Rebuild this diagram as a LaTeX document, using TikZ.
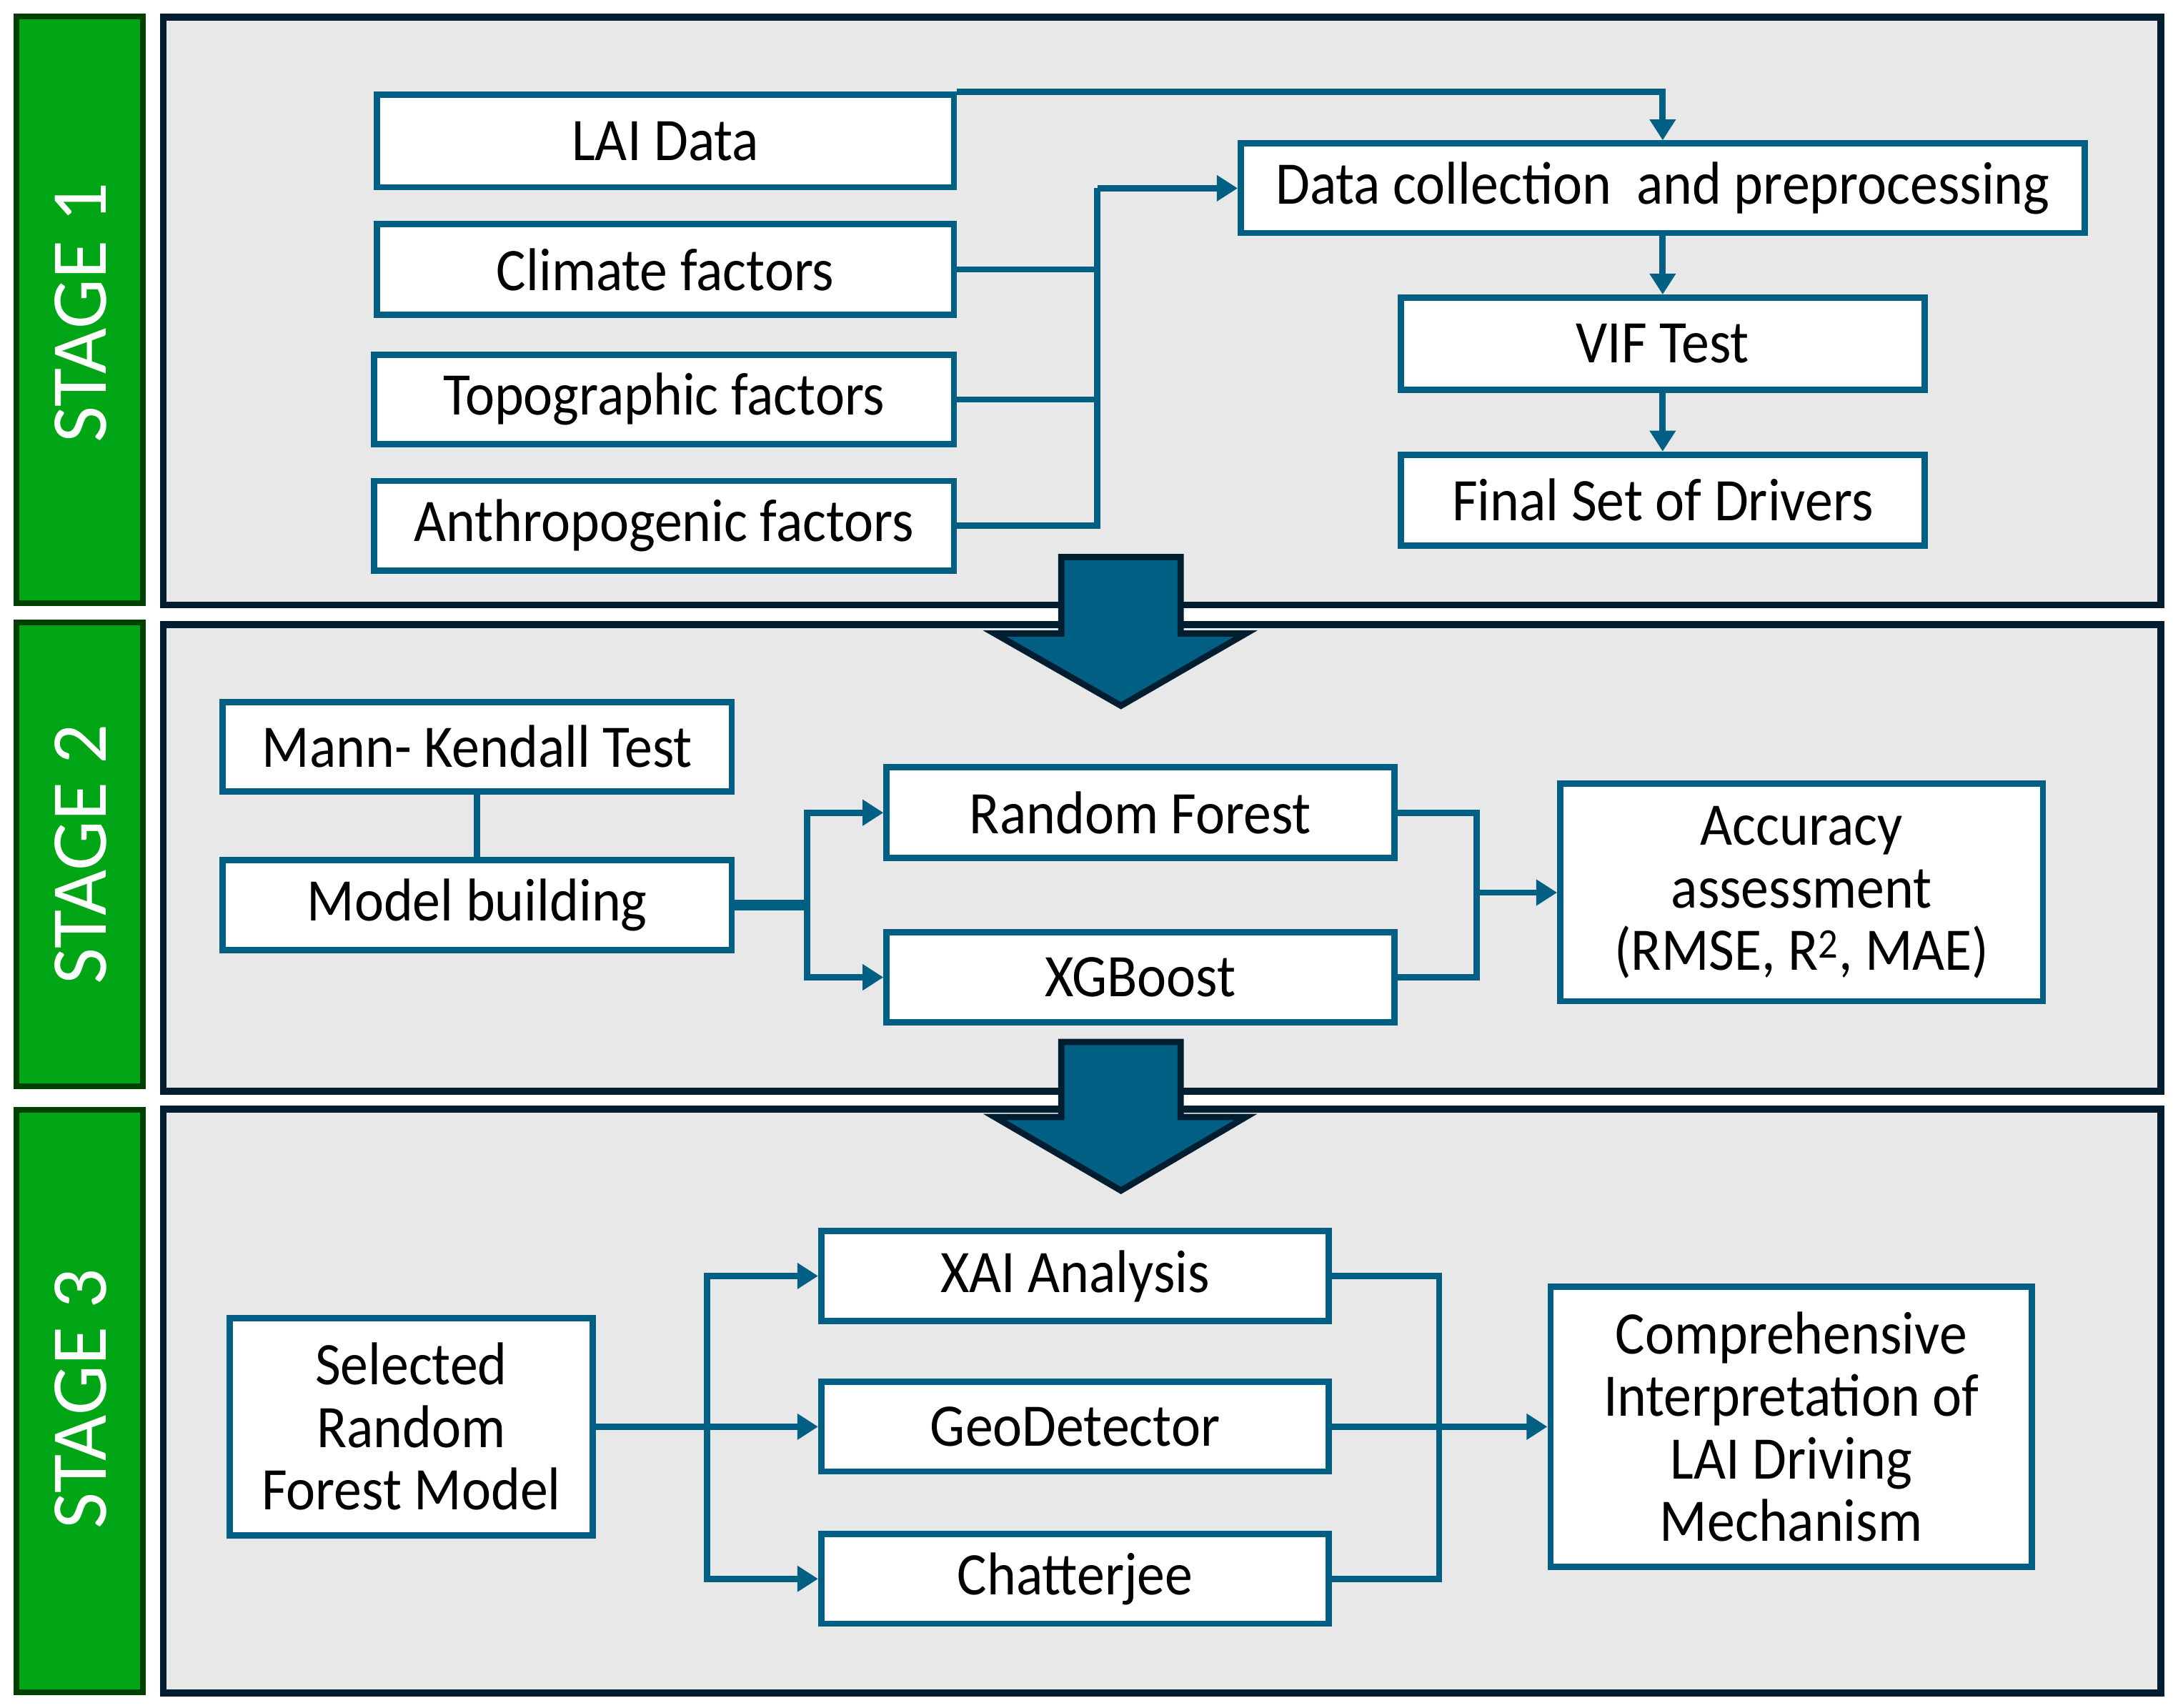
\documentclass[tikz,border=0pt]{standalone}
\usepackage{fontspec}
\setmainfont{Carlito}[FakeStretch=0.92]
\newfontfamily\stagefont{Carlito}
\usetikzlibrary{arrows.meta}
\definecolor{teal1}{RGB}{0,95,130}
\definecolor{navy1}{RGB}{0,30,48}
\definecolor{panelgray}{RGB}{232,232,232}
\definecolor{green1}{RGB}{0,165,22}
\definecolor{green2}{RGB}{0,64,0}
\begin{document}
\begin{tikzpicture}[x=1pt,y=-1pt,
  box/.style={draw=teal1, line width=4.5pt, fill=white, inner sep=0pt, align=center,
    font=\fontsize{43.5}{45}\selectfont},
  conn/.style={draw=teal1, line width=4.5pt},
  arr/.style={-{Triangle[length=15pt,width=18pt]}},
  panel/.style={draw=navy1, line width=5pt, fill=panelgray},
  stagebar/.style={draw=green2, line width=4pt, fill=green1},
  stagelabel/.style={text=white, rotate=90, inner sep=0pt,
    font=\stagefont\fontsize{57}{60}\selectfont},
  bigarrow/.style={draw=navy1, line width=4.5pt, fill=teal1, line join=miter}
]
\useasboundingbox (0,0) rectangle (1568,1229);
\fill[white] (0,0) rectangle (1568,1229);

% panels
\draw[panel] (117.5,12.5) rectangle (1555.5,435.5);
\draw[panel] (117.5,449.5) rectangle (1555.5,785.5);
\draw[panel] (117.5,798.5) rectangle (1555.5,1218.5);

% stage bars
\draw[stagebar] (12,12) rectangle (103,434);
\draw[stagebar] (12,448) rectangle (103,782);
\draw[stagebar] (12,799) rectangle (103,1218);
\node[stagelabel] (s1) at (58,225) {STAGE 1};
\node[stagelabel] (s2) at (58,615) {STAGE 2};
\node[stagelabel] (s3) at (58,1007) {STAGE 3};

% big arrows
\draw[bigarrow] (764,401) -- (850,401) -- (850,456) -- (897,456) -- (807,508)
  -- (716,456) -- (764,456) -- cycle;
\draw[bigarrow] (764,750) -- (850,750) -- (850,804) -- (897,804) -- (807,857)
  -- (716,804) -- (764,804) -- cycle;

% stage 1 boxes
\node[box, minimum width=415.5pt, minimum height=66.5pt] (lai) at (479,101.5) {LAI Data};
\node[box, minimum width=415.5pt, minimum height=65.5pt] (clim) at (479,194) {Climate factors};
\node[box, minimum width=417.5pt, minimum height=64.5pt] (topo) at (478,287.5) {Topographic factors};
\node[box, minimum width=417.5pt, minimum height=64.5pt] (anth) at (478,378.5) {Anthropogenic factors};
\node[box, minimum width=607.5pt, minimum height=64.5pt] (dc) at (1197,135.5) {Data collection \ and preprocessing};
\node[box, minimum width=377pt, minimum height=66.5pt] (vif) at (1197,247.5) {VIF Test};
\node[box, minimum width=377pt, minimum height=65.5pt] (fin) at (1197,360) {Final Set of Drivers};

% stage 1 connectors
\coordinate (j1) at (790,135.5);
\draw[conn,arr] (lai.north east) -| (dc.north);
\draw[conn] (clim.east) -- (clim.east -| j1);
\draw[conn] (topo.east) -- (topo.east -| j1);
\draw[conn] (anth.east) -| (j1);
\draw[conn,arr] (j1) -- (dc.west);
\draw[conn,arr] (dc.south) -- (vif.north);
\draw[conn,arr] (vif.south) -- (fin.north);

% stage 2 boxes
\node[box, minimum width=366.5pt, minimum height=64.5pt] (mk) at (343.5,537.5) {Mann- Kendall Test};
\node[box, minimum width=366.5pt, minimum height=64.5pt] (mb) at (343.5,651.5) {Model building};
\node[box, minimum width=365.5pt, minimum height=65.5pt] (rf) at (821,585) {Random Forest};
\node[box, minimum width=365.5pt, minimum height=64.5pt] (xgb) at (821,703.5) {XGBoost};
\node[box, minimum width=347.5pt, minimum height=156.5pt] (acc) at (1297,642.5)
  {Accuracy\\assessment\\(RMSE, R\textsuperscript{2}, MAE)};

% stage 2 connectors
\coordinate (j2) at (581,651.5);
\coordinate (j3) at (1063,642.5);
\draw[conn] (mk.south) -- (mb.north);
\draw[conn, line width=8pt] (mb.east) -- (j2);
\draw[conn,arr] (j2) |- (rf.west);
\draw[conn,arr] (j2) |- (xgb.west);
\draw[conn] (rf.east) -| (j3);
\draw[conn] (xgb.east) -| (j3);
\draw[conn,arr] (j3) -- (acc.west);

% stage 3 boxes
\node[box, minimum width=261.5pt, minimum height=156.5pt] (sel) at (296,1027)
  {Selected\\Random\\Forest Model};
\node[box, minimum width=365.5pt, minimum height=64.5pt] (xai) at (774,918.5) {XAI Analysis};
\node[box, minimum width=365.5pt, minimum height=64.5pt] (geo) at (774,1027) {GeoDetector};
\node[box, minimum width=365.5pt, minimum height=64.5pt] (chat) at (774,1136.5) {Chatterjee};
\node[box, minimum width=346.5pt, minimum height=201.5pt] (comp) at (1289.5,1027)
  {Comprehensive\\Interpretation of\\LAI Driving\\Mechanism};

% stage 3 connectors
\coordinate (j4) at (509,1027);
\coordinate (j5) at (1036,1027);
\draw[conn] (sel.east) -- (j4);
\draw[conn,arr] (j4) |- (xai.west);
\draw[conn,arr] (j4) -- (geo.west);
\draw[conn,arr] (j4) |- (chat.west);
\draw[conn] (xai.east) -| (j5);
\draw[conn] (chat.east) -| (j5);
\draw[conn,arr] (geo.east) -- (comp.west);
\end{tikzpicture}
\end{document}
